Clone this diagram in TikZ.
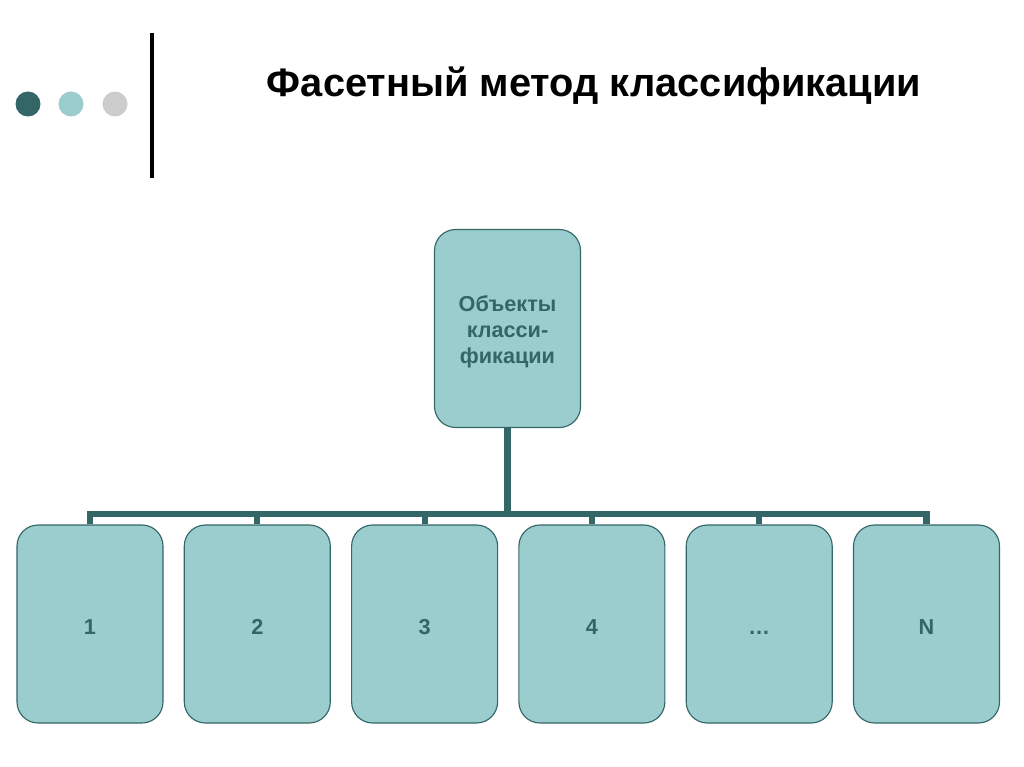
\documentclass[tikz,border=0pt]{standalone}
\usepackage{fontspec}
\setmainfont{Liberation Sans}
\usetikzlibrary{calc, positioning}

\definecolor{tealdark}{HTML}{336666}
\definecolor{teallight}{HTML}{9BCDCE}
\definecolor{dotgray}{HTML}{CCCCCC}

\tikzset{
  facet/.style={draw=tealdark, line width=0.8pt, fill=teallight, rounded corners=15pt,
    minimum width=146*0.025cm, minimum height=198*0.025cm, inner sep=0pt,
    text=tealdark, font=\fontsize{15.4}{18.8}\selectfont\bfseries, align=center},
  link/.style={draw=tealdark, line width=4.3pt, line join=miter}
}

\begin{document}
\begin{tikzpicture}[x=0.025cm, y=-0.025cm]
\useasboundingbox (0,0) rectangle (1024,767);
\def\busY{514}

% decoration in the corner
\fill[tealdark] (28,104) circle (12.5);
\fill[teallight] (71,104) circle (12.5);
\fill[dotgray] (115,104) circle (12.5);
\draw[black, line width=2.9pt] (152,33) -- (152,178);

\node[anchor=base west, font=\fontsize{28.3}{32}\selectfont\bfseries] (title) at (262,97)
  {Фасетный метод классификации};

% root of the tree
\node[facet] (root) at (507.5,328.5) {\rule{0pt}{16pt}Объекты\\класси-\\фикации};
\coordinate (bus) at (507.5,\busY);

% facets
\foreach \lab [count=\i] in {1,2,3,4,\dots,N}{
  \node[facet] (f\i) at ({90+(\i-1)*167.3},624) {\rule{0pt}{15pt}\lab};
}

\draw[link] (root.south) -- (bus);
\draw[link] (f1.north) -- (f1.north |- bus) -- (f6.north |- bus) -- (f6.north);
\foreach \i in {2,...,5}
  \draw[link] (f\i.north) -- (f\i.north |- bus);
\end{tikzpicture}
\end{document}
